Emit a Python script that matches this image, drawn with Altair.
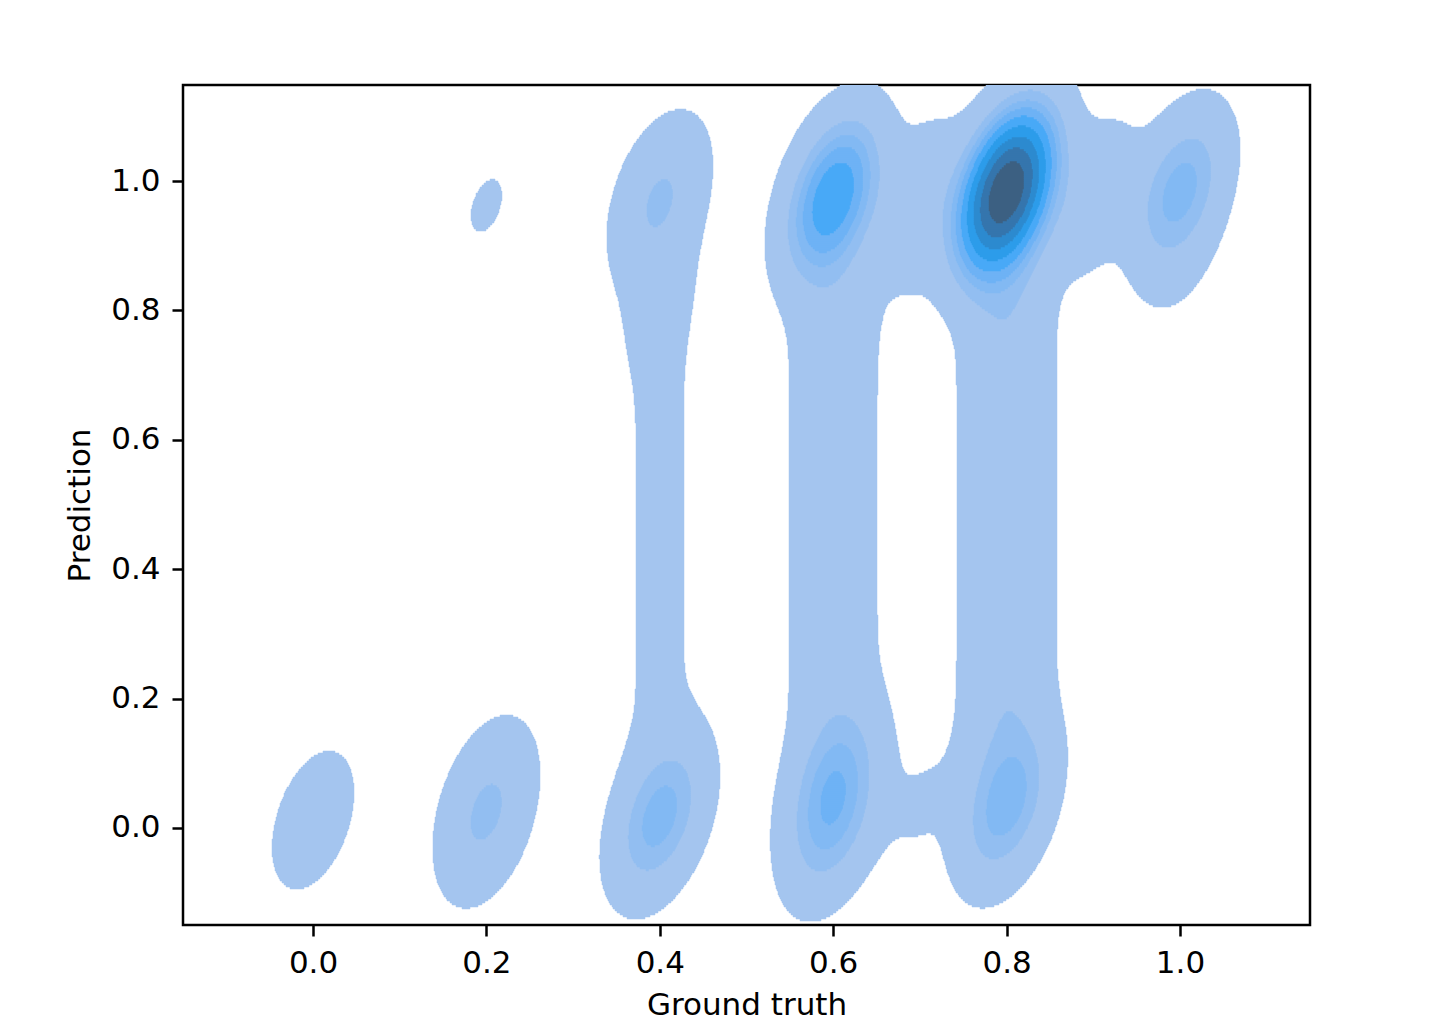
import math
import numpy as np
import pandas as pd
import altair as alt

# ---- data: (ground truth, prediction, weight) samples ----
GT = [0.0,
      0.2, 0.2, 0.2,
      0.4, 0.4, 0.4, 0.4, 0.4, 0.4, 0.4, 0.4, 0.4, 0.4, 0.4, 0.4,
      0.6, 0.6, 0.6, 0.6, 0.6, 0.6, 0.6, 0.6, 0.6, 0.6, 0.6, 0.6,
      0.7, 0.7, 0.7,
      0.8, 0.8, 0.8, 0.8, 0.8, 0.8, 0.8, 0.8, 0.8, 0.8, 0.8,
      0.9,
      1.0, 1.0]
PRED = [0.012,
        0.0, 0.05, 0.962,
        0.015, 0.975, 0.82, 0.1, 0.2, 0.3, 0.4, 0.5, 0.6, 0.7, 0.8, 0.9,
        0.0, 0.07, 0.978, 0.1, 0.2, 0.3, 0.4, 0.5, 0.6, 0.7, 0.8, 0.9,
        0.035, 0.98, 0.88,
        0.03, 0.985, 0.1, 0.2, 0.3, 0.4, 0.5, 0.6, 0.7, 0.8, 0.9,
        0.975,
        0.986, 0.88]
WEIGHT = [3.2,
          4.0, 4.0, 1.18,
          12.0, 6.5, 0.8, 0.92, 0.92, 0.92, 0.92, 0.92, 0.92, 0.92, 0.92, 0.92,
          8.0, 8.0, 24.5, 2.4, 2.4, 2.4, 2.4, 2.4, 2.4, 2.4, 2.4, 2.4,
          1.2, 3.6, 0.8,
          11.0, 75.0, 3.5, 3.5, 3.5, 3.5, 3.5, 3.5, 3.5, 3.5, 3.5,
          4.2,
          12.0, 1.15]

X_TICKS = [0.0, 0.2, 0.4, 0.6, 0.8, 1.0]
Y_TICKS = [0.0, 0.2, 0.4, 0.6, 0.8, 1.0]
X_DOMAIN = [-0.15, 1.15]
Y_DOMAIN = [-0.15, 1.1484]

# kernel (bandwidth) of the density estimate
SX, SY, RHO = 0.031, 0.070, 0.4
# contour levels as fractions between the lowest level and the peak
LEVEL_FRAC = [0.0, 0.07, 0.12, 0.17, 0.24, 0.34, 0.47, 0.62, 0.8, 1.0]
LOWEST = 1.0

# ---- husl colormap as used by seaborn for a filled kdeplot ----
M = [[3.2406, -1.5372, -0.4986], [-0.9689, 1.8758, 0.0415], [0.0557, -0.2040, 1.0570]]
M_INV = [[0.4124, 0.3576, 0.1805], [0.2126, 0.7152, 0.0722], [0.0193, 0.1192, 0.9505]]
REF_U, REF_V = 0.19784, 0.46834
LAB_E, LAB_K = 0.008856, 903.3


def max_chroma(L, H):
    hrad = math.radians(H)
    sinH, cosH = math.sin(hrad), math.cos(hrad)
    sub1 = (L + 16) ** 3 / 1560896.0
    sub2 = sub1 if sub1 > LAB_E else L / LAB_K
    result = float("inf")
    for m1, m2, m3 in M:
        top = (0.99915 * m1 + 1.05122 * m2 + 1.14460 * m3) * sub2
        rb = 0.86330 * m3 - 0.17266 * m2
        lb = 0.12949 * m3 - 0.38848 * m1
        bottom = (rb * sinH + lb * cosH) * sub2
        for t in (0.0, 1.0):
            C = L * (top - 1.05122 * t) / (bottom + 0.17266 * sinH * t)
            if 0.0 < C < result:
                result = C
    return result


def f(t):
    return t ** (1 / 3) if t > LAB_E else 7.787 * t + 16 / 116


def f_inv(t):
    return t ** 3 if t ** 3 > LAB_E else (116 * t - 16) / LAB_K


def to_lin(c):
    return ((c + 0.055) / 1.055) ** 2.4 if c > 0.04045 else c / 12.92


def from_lin(c):
    return 12.92 * c if c <= 0.0031308 else 1.055 * c ** (1 / 2.4) - 0.055


def rgb_to_husl(r, g, b):
    rl = [to_lin(c) for c in (r, g, b)]
    X, Y, Z = [sum(a * b for a, b in zip(row, rl)) for row in M_INV]
    den = X + 15 * Y + 3 * Z
    vu, vv = 4 * X / den, 9 * Y / den
    L = 116 * f(Y) - 16
    U, V = 13 * L * (vu - REF_U), 13 * L * (vv - REF_V)
    C = math.hypot(U, V)
    H = math.degrees(math.atan2(V, U)) % 360
    return H, C / max_chroma(L, H) * 100, L


def husl_to_rgb(H, S, L):
    C = max_chroma(L, H) / 100 * S
    U, V = math.cos(math.radians(H)) * C, math.sin(math.radians(H)) * C
    vy = f_inv((L + 16) / 116)
    vu, vv = U / (13 * L) + REF_U, V / (13 * L) + REF_V
    Y = vy
    X = -(9 * Y * vu) / ((vu - 4) * vv - vu * vv)
    Z = (9 * Y - 15 * vv * Y - vv * X) / (3 * vv)
    return [min(max(from_lin(sum(a * b for a, b in zip(row, (X, Y, Z)))), 0), 1) for row in M]


h0, s0, _ = rgb_to_husl(0x1f / 255, 0x77 / 255, 0xb4 / 255)
xx = np.linspace(-1, 1, int(1.15 * 256))[:256]
ramp = [husl_to_rgb(h0, s0 * math.cos(a), l) for a, l in zip(xx, np.linspace(35, 80, 256))]
cmap = ramp[::-1]


def to_hex(c):
    return "#%02x%02x%02x" % tuple(int(round(v * 255)) for v in c)


# ---- density on a grid (1 px columns, 2 px rows) ----
PLOT_W, PLOT_H = 1127, 840
xe = np.linspace(X_DOMAIN[0], X_DOMAIN[1], PLOT_W + 1)
ye = np.linspace(Y_DOMAIN[0], Y_DOMAIN[1], PLOT_H // 2 + 1)
xc = (xe[:-1] + xe[1:]) / 2
yc = (ye[:-1] + ye[1:]) / 2
GX, GY = np.meshgrid(xc, yc)
dens = np.zeros_like(GX)
for g, p, w in zip(GT, PRED, WEIGHT):
    dx, dy = GX - g, GY - p
    q = (dx ** 2 / SX ** 2 - 2 * RHO * dx * dy / (SX * SY) + dy ** 2 / SY ** 2) / (1 - RHO ** 2)
    dens += w * np.exp(-0.5 * q)

peak = float(dens.max())
levels = [LOWEST + fr * (peak - LOWEST) for fr in LEVEL_FRAC]
band = np.digitize(dens, levels[1:-1])
band[dens < levels[0]] = -1

n_bands = len(levels) - 1
colors = []
for i in range(n_bands):
    t = (LEVEL_FRAC[i] + LEVEL_FRAC[i + 1]) / 2
    colors.append(to_hex(cmap[min(int(t * 256), 255)]))

rows = []
for j in range(band.shape[0]):
    b = band[j]
    change = np.flatnonzero(np.diff(b)) + 1
    starts = np.concatenate([[0], change])
    ends = np.concatenate([change, [len(b)]])
    for s, e in zip(starts, ends):
        if b[s] >= 0:
            rows.append((xe[s], xe[e], ye[j], ye[j + 1], int(b[s])))
df = pd.DataFrame(rows, columns=["x0", "x1", "y0", "y1", "band"])

band_scale = alt.Scale(domain=list(range(n_bands)), range=colors)

chart = alt.Chart(df).mark_rect(strokeWidth=0.5, clip=True).encode(
    x=alt.X("x0:Q", scale=alt.Scale(domain=X_DOMAIN, nice=False, zero=False),
            axis=alt.Axis(values=X_TICKS, format=".1f", title="Ground truth",
                          labelPadding=12, titlePadding=12)),
    x2="x1:Q",
    y=alt.Y("y0:Q", scale=alt.Scale(domain=Y_DOMAIN, nice=False, zero=False),
            axis=alt.Axis(values=Y_TICKS, format=".1f", title="Prediction",
                          labelPadding=12, titlePadding=14)),
    y2="y1:Q",
    color=alt.Color("band:O", scale=band_scale, legend=None),
    stroke=alt.Stroke("band:O", scale=band_scale, legend=None),
).properties(
    width=PLOT_W, height=PLOT_H,
    autosize=alt.AutoSizeParams(type="none"),
    padding={"left": 175, "top": 77, "right": 100, "bottom": 100},
    background="white",
).configure_view(
    stroke="black", strokeWidth=2.5
).configure_axis(
    domain=False, grid=False, tickColor="black", tickWidth=2.5, tickSize=11,
    labelFont="DejaVu Sans", labelFontSize=31, labelColor="black",
    titleFont="DejaVu Sans", titleFontSize=31, titleFontWeight="normal", titleColor="black",
)

chart.save("out.html", embed_options={"renderer": "svg", "actions": False})
